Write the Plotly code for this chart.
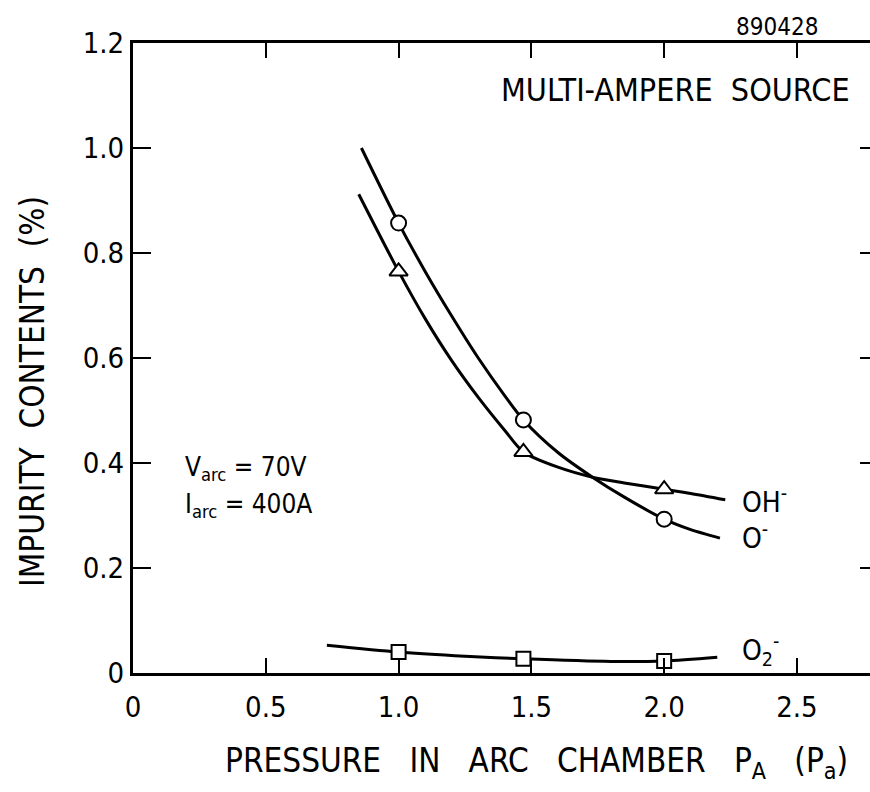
import plotly.graph_objects as go

# ---- data ----
x_pts = [1.0, 1.47, 2.0]
o_minus_pts = [0.857, 0.482, 0.293]
oh_minus_pts = [0.765, 0.421, 0.350]
o2_minus_pts = [0.040, 0.027, 0.023]

o_curve_x = [0.86, 1.0, 1.1, 1.2, 1.3, 1.4, 1.47, 1.6, 1.73, 1.85, 2.0, 2.1, 2.21]
o_curve_y = [1.00, 0.857, 0.765, 0.680, 0.600, 0.528, 0.482, 0.420, 0.373, 0.335, 0.293, 0.273, 0.257]
oh_curve_x = [0.85, 1.0, 1.1, 1.2, 1.3, 1.4, 1.47, 1.6, 1.73, 1.85, 2.0, 2.1, 2.23]
oh_curve_y = [0.912, 0.765, 0.675, 0.595, 0.525, 0.462, 0.421, 0.392, 0.373, 0.362, 0.350, 0.342, 0.330]
o2_curve_x = [0.73, 1.0, 1.25, 1.47, 1.8, 2.0, 2.2]
o2_curve_y = [0.053, 0.040, 0.032, 0.027, 0.022, 0.023, 0.030]

x_ticks = [0, 0.5, 1.0, 1.5, 2.0, 2.5]
x_ticktext = ["0", "0.5", "1.0", "1.5", "2.0", "2.5"]
y_ticks = [0, 0.2, 0.4, 0.6, 0.8, 1.0, 1.2]
y_ticktext = ["0", "0.2", "0.4", "0.6", "0.8", "1.0", "1.2"]

FONT = "Liberation Sans Narrow, DejaVu Sans Condensed, Arial Narrow, Liberation Sans, sans-serif"
LW = 3

# plot area in pixels
L, R, T, B = 133, 870, 43, 673


def px(x):
    return (x - L) / (R - L)


def py(y):
    return (B - y) / (B - T)


fig = go.Figure()

for cx, cy in [(o_curve_x, o_curve_y), (oh_curve_x, oh_curve_y), (o2_curve_x, o2_curve_y)]:
    fig.add_trace(go.Scatter(x=cx, y=cy, mode="lines",
                             line=dict(color="black", width=LW, shape="spline", smoothing=0.8),
                             showlegend=False, hoverinfo="skip"))

fig.add_trace(go.Scatter(x=x_pts, y=o_minus_pts, mode="markers",
                         marker=dict(symbol="circle", size=15, color="white",
                                     line=dict(color="black", width=2)), showlegend=False))
fig.add_trace(go.Scatter(x=x_pts, y=oh_minus_pts, mode="markers",
                         marker=dict(symbol="triangle-up", size=16, color="white",
                                     line=dict(color="black", width=2)), showlegend=False))
fig.add_trace(go.Scatter(x=x_pts, y=o2_minus_pts, mode="markers",
                         marker=dict(symbol="square", size=14, color="white",
                                     line=dict(color="black", width=2)), showlegend=False))

# invisible trace on right mirror axis
fig.add_trace(go.Scatter(x=[0], y=[0], yaxis="y2", mode="markers",
                         marker=dict(opacity=0), showlegend=False, hoverinfo="skip"))

XR = [0, 2.775]
YR = [0, 1.2]

fig.update_layout(
    width=870, height=792,
    margin=dict(l=L, r=870 - R, t=T, b=792 - B),
    paper_bgcolor="white", plot_bgcolor="white",
    font=dict(family=FONT, color="black", size=24),
    xaxis=dict(range=XR, tickvals=x_ticks, ticktext=x_ticktext,
               showgrid=False, zeroline=False, showline=True, linecolor="black", linewidth=LW,
               ticks="inside", ticklen=15, tickwidth=2, tickcolor="black", mirror="ticks",
               ticklabelstandoff=6,
               tickfont=dict(size=29, family=FONT)),
    yaxis=dict(range=YR, tickvals=y_ticks, ticktext=y_ticktext,
               showgrid=False, zeroline=False, showline=True, linecolor="black", linewidth=LW,
               ticks="inside", ticklen=18, tickwidth=2, tickcolor="black",
               tickfont=dict(size=29, family=FONT)),
    yaxis2=dict(range=YR, overlaying="y", side="right", tickvals=y_ticks[1:-1],
                showgrid=False, zeroline=False, showline=False, showticklabels=False,
                ticks="inside", ticklen=10, tickwidth=2, tickcolor="black"),
)

ann = [
    dict(text="890428", x=777, y=27, size=24, anchor="center"),
    dict(text="MULTI-AMPERE  SOURCE", x=675, y=90, size=32, anchor="center"),
    dict(text="OH<sup>-</sup>", x=740, y=500, size=28, anchor="left"),
    dict(text="O<sup>-</sup>", x=740, y=536, size=28, anchor="left"),
    dict(text="O<sub>2</sub><sup>-</sup>", x=740, y=650, size=28, anchor="left"),
    dict(text="PRESSURE   IN   ARC   CHAMBER   P<sub>A</sub>   (P<sub>a</sub>)", x=536, y=762, size=33,
         anchor="center"),
    dict(text="V<sub>arc</sub> = 70V", x=183, y=468, size=26, anchor="left"),
    dict(text="I<sub>arc</sub> = 400A", x=183, y=505, size=26, anchor="left"),
]
for a in ann:
    fig.add_annotation(text=a["text"], xref="paper", yref="paper",
                       x=px(a["x"]), y=py(a["y"]), xanchor=a["anchor"], yanchor="middle",
                       showarrow=False, font=dict(size=a["size"], family=FONT, color="black"))

fig.add_annotation(text="IMPURITY  CONTENTS  (%)", xref="paper", yref="paper",
                   x=px(32), y=py(392), textangle=-90, xanchor="center", yanchor="middle",
                   showarrow=False, font=dict(size=33, family=FONT, color="black"))

fig.write_html("out.html")
